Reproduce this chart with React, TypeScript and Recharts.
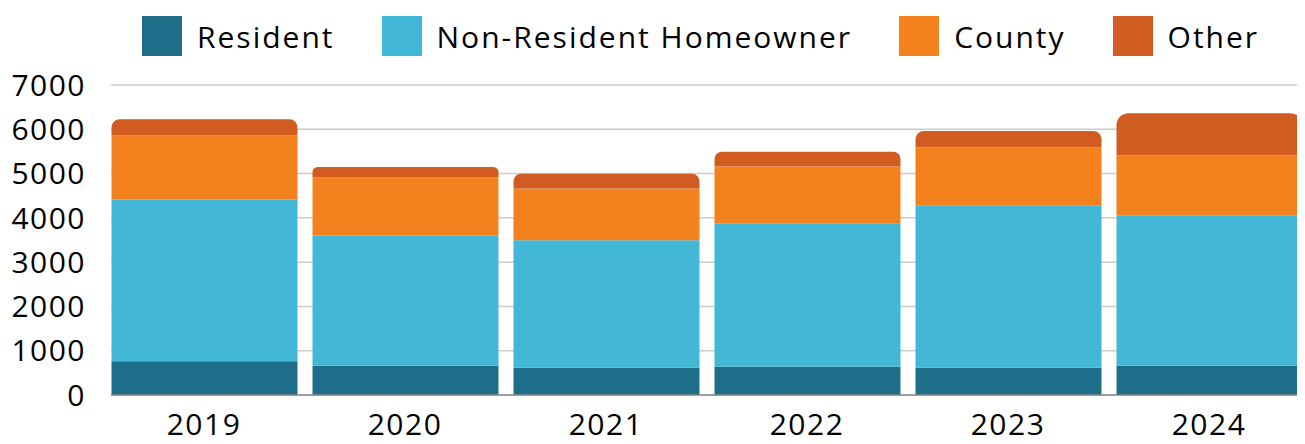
import { BarChart, Bar, XAxis, YAxis, CartesianGrid, Legend } from 'recharts';

const years = ['2019', '2020', '2021', '2022', '2023', '2024'];
const resident = [760, 662, 617, 640, 617, 663];
const nonResident = [3657, 2940, 2879, 3226, 3656, 3384];
const county = [1446, 1311, 1168, 1296, 1318, 1363];
const other = [361, 233, 332, 332, 369, 950];
const yTicks = [0, 1000, 2000, 3000, 4000, 5000, 6000, 7000];

const SERIES = [
  { key: 'resident', label: 'Resident', color: '#1e6e89' },
  { key: 'nonResident', label: 'Non-Resident Homeowner', color: '#42b7d6' },
  { key: 'county', label: 'County', color: '#f3811d' },
  { key: 'other', label: 'Other', color: '#d05c21' },
];

const FONT = '"Open Sans", sans-serif';

const data = years.map((year, i) => ({
  year,
  resident: resident[i],
  nonResident: nonResident[i],
  county: county[i],
  other: other[i],
}));

function ChartLegend() {
  return (
    <div
      style={{
        display: 'flex',
        alignItems: 'flex-start',
        gap: 47,
        height: 70,
        paddingTop: 1,
        paddingLeft: 142,
        boxSizing: 'border-box',
        fontFamily: FONT,
        fontSize: 30,
        letterSpacing: 2,
      }}
    >
      {SERIES.map((s) => (
        <div key={s.key} style={{ display: 'flex', alignItems: 'center', gap: 15, height: 40 }}>
          <span style={{ width: 40, height: 40, background: s.color, display: 'inline-block' }} />
          <span>{s.label}</span>
        </div>
      ))}
    </div>
  );
}

export default function App() {
  return (
    <div style={{ margin: -8, width: 1305, height: 444, overflow: 'hidden', background: '#fff' }}>
      <BarChart
        width={1305}
        height={444}
        data={data}
        margin={{ top: 15, right: 3, bottom: 9, left: 0 }}
      >
        <Legend verticalAlign="top" content={() => <ChartLegend />} />
        <CartesianGrid vertical={false} stroke="#cccccc" strokeWidth={1.5} />
        <XAxis
          dataKey="year"
          tickLine={false}
          tickSize={0}
          tickMargin={19}
          height={40}
          padding={{ left: -7.5, right: -7.5 }}
          axisLine={{ stroke: '#888888', strokeWidth: 1.5 }}
          tick={{ fill: '#000', fontSize: 30, fontFamily: FONT, letterSpacing: 1.5 }}
        />
        <YAxis
          domain={[0, 7000]}
          ticks={yTicks}
          width={111}
          tickLine={false}
          axisLine={false}
          tickSize={0}
          tickMargin={25}
          tick={{ fill: '#000', fontSize: 30, fontFamily: FONT, letterSpacing: 1.5 }}
        />
        {SERIES.map((s, i) => (
          <Bar
            key={s.key}
            dataKey={s.key}
            name={s.label}
            stackId="a"
            fill={s.color}
            barSize={186}
            isAnimationActive={false}
            radius={i === SERIES.length - 1 ? [12, 12, 0, 0] : 0}
          />
        ))}
      </BarChart>
    </div>
  );
}
